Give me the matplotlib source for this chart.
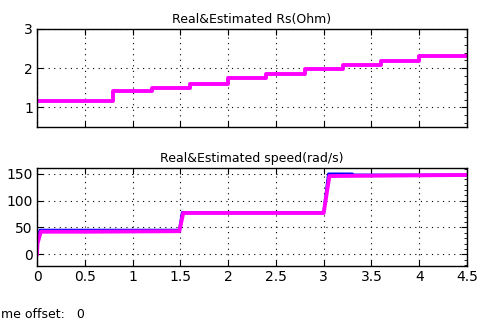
import matplotlib
matplotlib.use("Agg")
import matplotlib.pyplot as plt
from matplotlib.ticker import AutoMinorLocator

# Rs estimation (stairs)
rs_times = [0, 0.8, 1.2, 1.6, 2.0, 2.4, 2.8, 3.2, 3.6, 4.0, 4.5]
rs_values = [1.17, 1.41, 1.50, 1.60, 1.74, 1.85, 1.97, 2.07, 2.18, 2.30, 2.30]

# speed (real / estimated)
real_t = [0, 0.01, 0.03, 1.49, 1.52, 3.0, 3.05, 3.3, 3.31, 4.5]
real_v = [0, 30, 45, 45, 78, 78, 150, 150, 148, 148]
est_t = [0, 0.005, 0.04, 0.5, 1.49, 1.53, 3.0, 3.06, 4.5]
est_v = [0, 20, 42, 42, 43, 77, 77, 146, 148]

x_ticks = [0, 0.5, 1, 1.5, 2, 2.5, 3, 3.5, 4, 4.5]
x_labels = ["0", "0.5", "1", "1.5", "2", "2.5", "3", "3.5", "4", "4.5"]

plt.rcParams["font.family"] = "DejaVu Sans"

fig = plt.figure(figsize=(4.79, 3.25), dpi=100)
ax1 = fig.add_axes([37 / 479, 1 - 127 / 325, 430 / 479, 98 / 325])
ax2 = fig.add_axes([37 / 479, 1 - 266 / 325, 430 / 479, 98 / 325])

ax1.step(rs_times, rs_values, where="post", color="#ff00ff", lw=2.8)
ax1.set_xlim(0, 4.5)
ax1.set_ylim(0.5, 3)
ax1.set_yticks([1, 2, 3])
ax1.set_xticks(x_ticks)
ax1.set_xticklabels([])
ax1.set_title("Real&Estimated Rs(Ohm)", fontsize=9, pad=4)

ax2.plot(real_t, real_v, color="#0000ff", lw=2)
ax2.plot(est_t, est_v, color="#ff00ff", lw=2.8)
ax2.set_xlim(0, 4.5)
ax2.set_ylim(-22, 161)
ax2.set_yticks([0, 50, 100, 150])
ax2.set_xticks(x_ticks)
ax2.set_xticklabels(x_labels)
ax2.set_title("Real&Estimated speed(rad/s)", fontsize=9, pad=4)

for ax in (ax1, ax2):
    ax.grid(True, color="black", linestyle=(0, (1, 4)), lw=0.8)
    ax.tick_params(direction="in", top=True, right=True, labelsize=10, length=4, pad=3)
    ax.yaxis.set_minor_locator(AutoMinorLocator(5))
    ax.tick_params(which="minor", direction="in", left=False, right=True, length=2)
    for s in ax.spines.values():
        s.set_color("black")
        s.set_linewidth(1)

# offset label (the left part is cut in the original window)
fig.text(1 / 479, 1 - 314 / 325, "me offset:   0", fontsize=9, va="center")

fig.savefig("out.png", dpi=100)
